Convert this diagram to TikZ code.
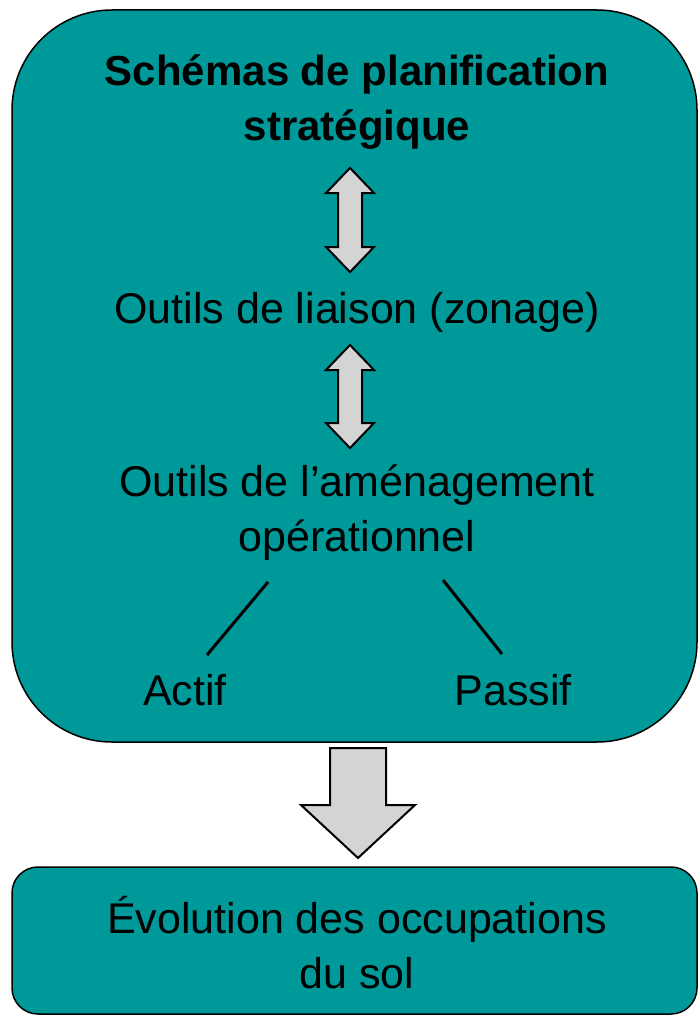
\documentclass[tikz,border=0pt]{standalone}
\usepackage{fontspec}
\setmainfont{Liberation Sans}
\definecolor{teal1}{RGB}{0,153,153}
\definecolor{arrgray}{RGB}{212,212,212}
\begin{document}
\begin{tikzpicture}[x=1pt,y=-1pt,
  box/.style={draw=black,line width=1.5pt,fill=teal1},
  txt/.style={font=\fontsize{43}{55}\selectfont,align=center,inner sep=0pt},
  bigarrow/.style={draw=black,line width=2pt,fill=arrgray,line join=miter},
  conn/.style={draw=black,line width=3pt}]
\useasboundingbox (0,0) rectangle (700,1019);
\draw[box,rounded corners=100pt] (12,10) rectangle (697,742);
\draw[box,rounded corners=26pt] (12,867) rectangle (697,1014);
% texts
\node[txt,font=\fontsize{42}{55}\selectfont\bfseries] (t1) at (357,102) {Schémas de planification\\stratégique};
\node[txt] (t2) at (357,312) {Outils de liaison (zonage)};
\node[txt] (t3) at (357,513) {Outils de l’aménagement\\opérationnel};
\node[txt] (a) at (185,690) {Actif};
\node[txt] (p) at (513,690) {Passif};
\node[txt] (t4) at (357,943) {Évolution des occupations\\du sol};
% double arrows
\foreach \yt/\yb in {168/272, 345/448}{
  \draw[bigarrow] (350,\yt) -- (374,{\yt+25}) -- (362,{\yt+25}) -- (362,{\yb-25}) -- (374,{\yb-25})
    -- (350,\yb) -- (326,{\yb-25}) -- (338,{\yb-25}) -- (338,{\yt+25}) -- (326,{\yt+25}) -- cycle;
}
% down arrow
\draw[bigarrow] (330,748) -- (386,748) -- (386,805) -- (415,805) -- (358,858) -- (301,805) -- (330,805) -- cycle;
% connector lines
\coordinate (l1) at (268,582);
\coordinate (l1e) at (207,655);
\coordinate (l2) at (443,580);
\coordinate (l2e) at (502,654);
\draw[conn] (l1) -- (l1e);
\draw[conn] (l2) -- (l2e);
\end{tikzpicture}
\end{document}
